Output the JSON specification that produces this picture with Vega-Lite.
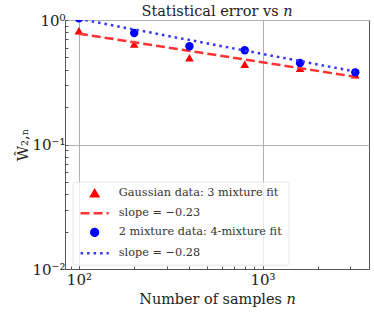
{
  "$schema": "https://vega.github.io/schema/vega-lite/v6.json",
  "autosize": {"type": "none"},
  "padding": {"left": 65, "top": 20, "right": 5, "bottom": 43},
  "width": 304,
  "height": 249,
  "title": {"text": "Statistical error vs 𝑛", "font": "DejaVu Serif", "fontSize": 14.5, "fontWeight": "normal", "color": "#222", "offset": -6},
  "config": {
    "view": {"stroke": "#555", "strokeWidth": 1},
    "axis": {"labelFont": "DejaVu Serif", "titleFont": "DejaVu Serif", "titleFontWeight": "normal", "labelColor": "#222", "titleColor": "#222", "domainColor": "#555", "tickColor": "#555", "gridColor": "#b0b0b0", "gridWidth": 1}
  },
  "data": {"values": [
    {"n": 100, "w": 0.82, "series": "Gaussian data: 3 mixture fit"},
    {"n": 200, "w": 0.642, "series": "Gaussian data: 3 mixture fit"},
    {"n": 400, "w": 0.498, "series": "Gaussian data: 3 mixture fit"},
    {"n": 800, "w": 0.441, "series": "Gaussian data: 3 mixture fit"},
    {"n": 1600, "w": 0.409, "series": "Gaussian data: 3 mixture fit"},
    {"n": 3200, "w": 0.364, "series": "Gaussian data: 3 mixture fit"},
    {"n": 100, "w": 0.776, "series": "slope = −0.23"},
    {"n": 3200, "w": 0.350, "series": "slope = −0.23"},
    {"n": 100, "w": 1.03, "series": "2 mixture data: 4-mixture fit"},
    {"n": 200, "w": 0.787, "series": "2 mixture data: 4-mixture fit"},
    {"n": 400, "w": 0.615, "series": "2 mixture data: 4-mixture fit"},
    {"n": 800, "w": 0.571, "series": "2 mixture data: 4-mixture fit"},
    {"n": 1600, "w": 0.452, "series": "2 mixture data: 4-mixture fit"},
    {"n": 3200, "w": 0.38, "series": "2 mixture data: 4-mixture fit"},
    {"n": 100, "w": 1.02, "series": "slope = −0.28"},
    {"n": 3200, "w": 0.385, "series": "slope = −0.28"}
  ]},
  "encoding": {
    "x": {"field": "n", "type": "quantitative",
      "scale": {"type": "log", "domain": [84, 3800], "nice": false},
      "axis": {"title": "Number of samples 𝑛", "titleFontSize": 14.4, "titlePadding": 5, "labelFontSize": 15, "labelPadding": 6, "labelOverlap": false,
        "values": [90, 100, 200, 300, 400, 500, 600, 700, 800, 900, 1000, 2000, 3000],
        "labelExpr": "datum.value == 100 ? '10²' : datum.value == 1000 ? '10³' : ''",
        "tickSize": -3,
        "gridOpacity": {"condition": {"test": "datum.value == 100 || datum.value == 1000", "value": 1}, "value": 0}}},
    "y": {"field": "w", "type": "quantitative",
      "scale": {"type": "log", "domain": [0.01, 1], "nice": false},
      "axis": {"title": "Ŵ₂,ₙ", "titleFontSize": 15, "titlePadding": 1, "labelFontSize": 15, "labelPadding": 3, "labelOverlap": false,
        "values": [0.01, 0.02, 0.03, 0.04, 0.05, 0.06, 0.07, 0.08, 0.09, 0.1, 0.2, 0.3, 0.4, 0.5, 0.6, 0.7, 0.8, 0.9, 1],
        "labelExpr": "datum.value == 1 ? '10⁰' : datum.value == 0.1 ? '10⁻¹' : datum.value == 0.01 ? '10⁻²' : ''",
        "tickSize": -3,
        "gridOpacity": {"condition": {"test": "datum.value == 1 || datum.value == 0.1 || datum.value == 0.01", "value": 1}, "value": 0}}},
    "color": {"field": "series", "type": "nominal",
      "scale": {"domain": ["Gaussian data: 3 mixture fit", "slope = −0.23", "2 mixture data: 4-mixture fit", "slope = −0.28"],
        "range": ["#ff0000", "#ff3333", "#0000ff", "#3333ff"]},
      "legend": {"title": null, "orient": "none", "legendX": 7.5, "legendY": 161.7,
        "labelFont": "DejaVu Serif", "labelFontSize": 11.3, "labelColor": "#333", "labelLimit": 300,
        "padding": 6, "rowPadding": 5, "symbolSize": 45, "symbolStrokeWidth": 2.5, "symbolOffset": 10.5, "labelOffset": 18.5,
        "fillColor": "rgba(255,255,255,0.8)", "strokeColor": "#e6e6e6", "cornerRadius": 2}
    }
  },
  "layer": [
    {"transform": [{"filter": "datum.series == 'Gaussian data: 3 mixture fit'"}],
     "mark": {"type": "point", "filled": true, "size": 75, "opacity": 1, "clip": true},
     "encoding": {"shape": {"field": "series", "type": "nominal", "legend": {"title": null},
       "scale": {"domain": ["Gaussian data: 3 mixture fit", "slope = −0.23", "2 mixture data: 4-mixture fit", "slope = −0.28"],
         "range": ["triangle-up", "M-4.2,0H4.2", "circle", "M-4.2,0H4.2"]}}}},
    {"transform": [{"filter": "datum.series == 'slope = −0.23'"}],
     "mark": {"type": "line", "strokeWidth": 2.5, "clip": true},
     "encoding": {
       "strokeDash": {"field": "series", "type": "nominal", "legend": {"title": null},
         "scale": {"domain": ["Gaussian data: 3 mixture fit", "slope = −0.23", "2 mixture data: 4-mixture fit", "slope = −0.28"],
           "range": [[1, 0], [9, 4], [1, 0], [2.5, 4]]}}}},
    {"transform": [{"filter": "datum.series == '2 mixture data: 4-mixture fit'"}],
     "mark": {"type": "point", "filled": true, "size": 70, "opacity": 1, "clip": true},
     "encoding": {"shape": {"field": "series", "type": "nominal", "legend": {"title": null}}}},
    {"transform": [{"filter": "datum.series == 'slope = −0.28'"}],
     "mark": {"type": "line", "strokeWidth": 2.5, "clip": true},
     "encoding": {
       "strokeDash": {"field": "series", "type": "nominal", "legend": {"title": null}}}}
  ]
}
